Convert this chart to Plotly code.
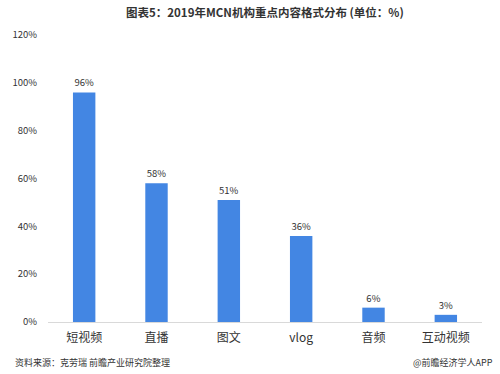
import plotly.graph_objects as go

categories = ["短视频", "直播", "图文", "vlog", "音频", "互动视频"]
values = [96, 58, 51, 36, 6, 3]
tick_vals = [0, 20, 40, 60, 80, 100, 120]
tick_text = ["0%", "20%", "40%", "60%", "80%", "100%", "120%"]

font_cn = "Noto Sans CJK SC"
W, H = 500, 374
ML, MR, MT, MB = 45, 18, 35, 52
plot_h = H - MT - MB


def py(pixel_y):
    return (H - MB - pixel_y) / plot_h


fig = go.Figure(go.Bar(
    x=categories, y=values,
    marker=dict(color="#4386E3", line=dict(width=0)),
    width=0.31,
    text=[f"{v}%" for v in values],
    textposition="outside",
    textfont=dict(size=9.5, color="#333333", family=font_cn),
    cliponaxis=False,
))

fig.update_layout(
    width=W, height=H,
    margin=dict(l=ML, r=MR, t=MT, b=MB),
    paper_bgcolor="white", plot_bgcolor="white",
    showlegend=False,
    font=dict(family=font_cn, color="#333333"),
    xaxis=dict(
        showgrid=False, showline=True, linecolor="#d9d9d9", linewidth=1,
        ticks="", ticklabelstandoff=5,
        tickfont=dict(size=12, color="#333333", family=font_cn),
    ),
    yaxis=dict(
        range=[0, 120], tickvals=tick_vals, ticktext=tick_text,
        showgrid=False, zeroline=False, showline=False, ticks="",
        ticklabelstandoff=10,
        tickfont=dict(size=9.5, color="#333333", family=font_cn),
    ),
    annotations=[
        dict(text="<b>图表5：2019年MCN机构重点内容格式分布 (单位：%)</b>",
             x=0.5, xref="paper", y=py(12), yref="paper", yanchor="middle",
             showarrow=False, font=dict(size=11.5, color="#333333", family=font_cn)),
        dict(text="资料来源：克劳瑞 前瞻产业研究院整理", x=-35 / (W - ML - MR), xref="paper",
             xanchor="left", y=py(362), yref="paper", yanchor="middle", showarrow=False,
             font=dict(size=9, color="#333333", family=font_cn)),
        dict(text="@前瞻经济学人APP", x=(W - 5 - ML) / (W - ML - MR), xref="paper",
             xanchor="right", y=py(362), yref="paper", yanchor="middle", showarrow=False,
             font=dict(size=9, color="#333333", family=font_cn)),
    ],
)

fig.write_html("out.html", config={"displayModeBar": False},
               post_script="document.body.style.margin='0';")
